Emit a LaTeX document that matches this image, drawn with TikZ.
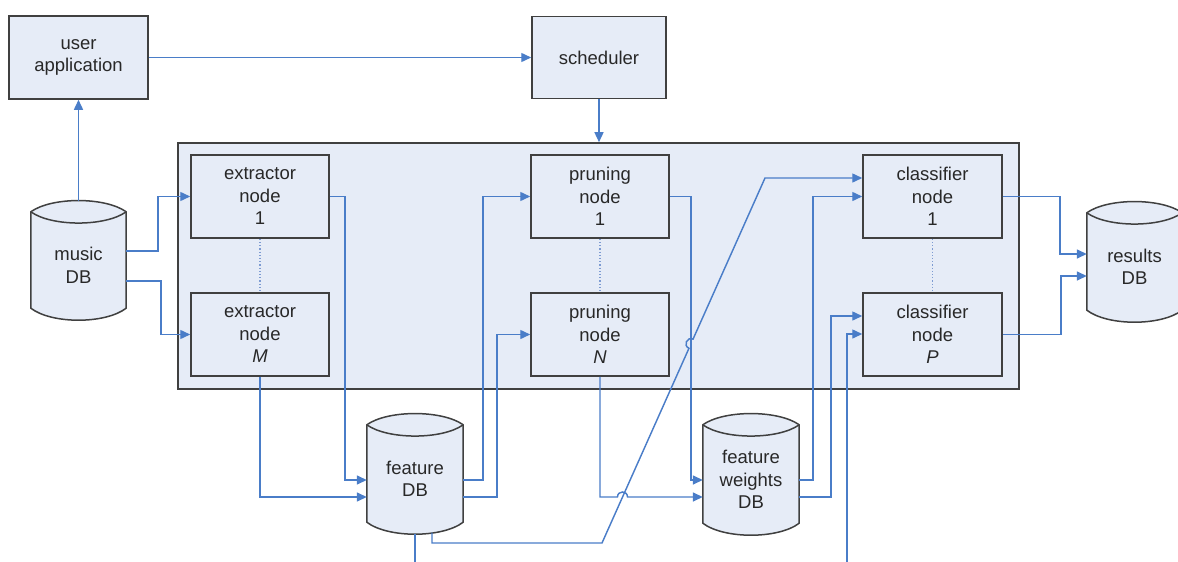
\documentclass[tikz,border=0pt]{standalone}
\usepackage{fontspec}
\setmainfont{Liberation Sans}
\usetikzlibrary{arrows.meta,calc,backgrounds}

\definecolor{boxfill}{RGB}{230,236,247}
\definecolor{boxedge}{RGB}{64,64,64}
\definecolor{wirec}{RGB}{74,125,200}
\definecolor{dotc}{RGB}{125,155,210}
\definecolor{ink}{RGB}{40,40,40}

\tikzset{
  label font/.style={font=\fontsize{18.5}{22.5}\selectfont, text=ink, align=center},
  unit/.style={label font, draw=boxedge, fill=boxfill, line width=1.5pt,
    minimum width=138pt, minimum height=83pt, inner sep=0pt},
  cluster/.style={draw=boxedge, fill=boxfill, line width=1.6pt,
    minimum width=841pt, minimum height=246pt, inner sep=0pt},
  store/.style={label font, minimum width=96pt, minimum height=86pt, inner sep=0pt},
  drumedge/.style={draw=boxedge, fill=boxfill, line width=1.5pt},
  link/.style={draw=wirec, line width=1.45pt},
  arr/.style={link, -{Triangle[length=10pt,width=9pt]}},
  pool/.style={draw=dotc, line width=1.2pt, dotted},
}

% outline of a storage drum drawn around the text node #1
\newcommand{\drum}[1]{%
  \coordinate (#1-tl) at ($(#1.north west)+(0,-11)$);
  \coordinate (#1-tr) at ($(#1.north east)+(0,-11)$);
  \filldraw[drumedge] (#1-tl) .. controls +(21,-15) and +(-21,-15) .. (#1-tr)
     -- (#1.south east) .. controls +(-21,16) and +(21,16) .. (#1.south west) -- cycle;
  \draw[drumedge] (#1-tl) .. controls +(21,15) and +(-21,15) .. (#1-tr);
}

\begin{document}
\begin{tikzpicture}[x=1pt,y=-1pt]
\clip (0,0) rectangle (1178,562);

% processing cluster
\node[cluster] (grid) at (598.5,266) {};

% boxes
\node[unit, minimum width=139pt] (app) at (78.5,57.5) {user\\application};
\node[unit, minimum width=134pt, minimum height=82pt] (sched) at (599,57.5) {scheduler};

\node[unit] (ext1) at (260,196.5) {extractor\\node\\1};
\node[unit] (extM) at (260,334.5) {extractor\\node\\\textit{M}};
\node[unit] (prun1) at (600,196.5) {pruning\\node\\1};
\node[unit] (prunN) at (600,334.5) {pruning\\node\\\textit{N}};
\node[unit, minimum width=139pt] (cls1) at (932.5,196.5) {classifier\\node\\1};
\node[unit, minimum width=139pt] (clsP) at (932.5,334.5) {classifier\\node\\\textit{P}};

% storage
\node[store, minimum width=95pt, minimum height=85pt] (music) at (78.5,265.5) {music\\DB};
\node[store] (feat) at (415,479) {feature\\DB};
\node[store, minimum height=87pt] (wts) at (751,479.5) {feature\\weights\\DB};
\node[store, minimum width=95pt] (res) at (1134.5,267) {results\\DB};

\begin{scope}[on background layer]
  \drum{music}
  \drum{feat}
  \drum{wts}
  \drum{res}
\end{scope}

% pools of identical nodes
\draw[pool] (ext1.south) -- (extM.north);
\draw[pool] (prun1.south) -- (prunN.north);
\draw[pool] (cls1.south) -- (clsP.north);

% free ends leaving the drawing at the bottom
\coordinate (featout) at (415,566);
\coordinate (clsin) at (847,566);

% control flow
\draw[arr] (app.east |- sched.west) -- (sched.west);
\draw[arr] ($(music.north)+(0,-22)$) -- (app.south);
\draw[arr] (sched.south) -- (sched.south |- grid.north);

% music DB to extractors
\draw[arr] (music.east |- 0,251) -- (158,251) |- (ext1.west);
\draw[arr] (music.east |- 0,281) -- (161,281) |- (extM.west);

% extractors to feature DB
\draw[arr] (ext1.east) -| (345,480) -- (feat.west |- 0,480);
\draw[arr] (extM.south) |- (feat.west |- 0,497);

% feature DB to pruning nodes
\draw[arr] (feat.east |- 0,480) -- (483,480) |- (prun1.west);
\draw[arr] (feat.east |- 0,497) -- (497,497) |- (prunN.west);

% pruning nodes to feature weights DB
\draw[arr] (prun1.east) -| (691,480) -- (wts.west |- 0,480);
\draw[arr] (prunN.south) -- (600,497) -- (617.5,497)
  .. controls +(0,-6.7) and +(0,-6.7) .. (627.5,497) -- (wts.west |- 0,497);

% feature DB to classifier node 1 (jumping over the weights line)
\draw[arr] ($(feat.south)+(17,10.5)$) -- (432,543) -- (602,543) -- (688.96,348.27)
  .. controls (682.87,345.55) and (686.95,336.41) .. (693.04,339.13)
  -- (765,178) -- (cls1.west |- 0,178);
\draw[link] ($(feat.south)+(0,12)$) -- (featout);

% feature weights DB to classifiers
\draw[arr] (wts.east |- 0,480) -- (813,480) |- (cls1.west);
\draw[arr] (wts.east |- 0,497) -- (831,497) |- (clsP.west |- 0,316);
\draw[arr] (clsin) |- (clsP.west |- 0,334);

% classifiers to results DB
\draw[arr] (cls1.east) -- (1060,196.5) |- (res.west |- 0,254);
\draw[arr] (clsP.east) -- (1061,334.5) |- (res.west |- 0,276);
\end{tikzpicture}
\end{document}
